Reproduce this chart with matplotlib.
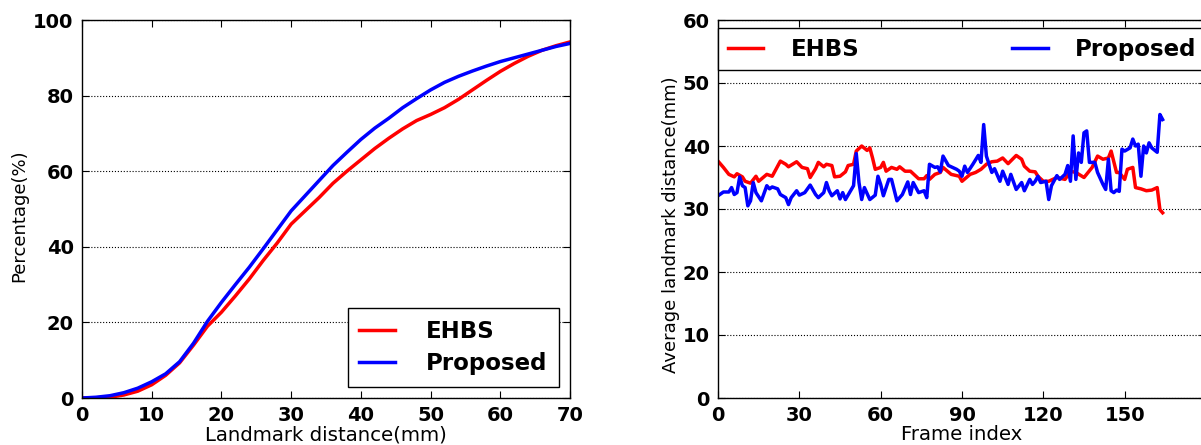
import matplotlib
matplotlib.use('Agg')
import matplotlib.pyplot as plt

# left: cumulative percentage vs landmark distance
dist = [0, 2, 4, 6, 8, 10, 12, 14, 16, 18, 20, 22, 24, 26, 28, 30, 32, 34, 36, 38,
        40, 42, 44, 46, 48, 50, 52, 54, 56, 58, 60, 62, 64, 66, 68, 70]
pct_ehbs = [0, 0.05, 0.2, 0.8, 1.8, 3.5, 6.0, 9.3, 14.0, 19.0, 22.7, 27.0, 31.5, 36.4,
            41.0, 46.0, 49.5, 53.0, 56.8, 60.0, 63.0, 66.0, 68.7, 71.2, 73.4, 75.0,
            76.8, 79.0, 81.5, 84.0, 86.4, 88.5, 90.4, 92.0, 93.2, 94.2]
pct_prop = [0, 0.2, 0.6, 1.4, 2.6, 4.3, 6.4, 9.6, 14.5, 20.3, 25.3, 30.0, 34.6, 39.5,
            44.5, 49.5, 53.5, 57.5, 61.5, 65.0, 68.4, 71.4, 74.0, 76.8, 79.2, 81.5,
            83.5, 85.1, 86.5, 87.8, 89.0, 90.0, 91.0, 92.0, 93.0, 93.8]

# right: average landmark distance per frame
fr_ehbs = [0, 2, 4, 6, 7, 9, 10, 12, 14, 15, 18, 20, 23, 25, 26, 29, 31, 33, 34, 36,
           37, 39, 40, 42, 43, 45, 47, 48, 50, 51, 53, 55, 56, 57, 58, 60, 61, 62, 64,
           66, 67, 69, 71, 73, 74, 76, 77, 78, 80, 82, 83, 86, 89, 90, 93, 95, 97, 99,
           101, 103, 105, 107, 110, 112, 113, 115, 117, 118, 120, 122, 125, 128, 130,
           132, 135, 138, 140, 142, 144, 145, 147, 148, 150, 151, 153, 154, 156, 158,
           160, 162, 163, 164]
val_ehbs = [37.6, 36.6, 35.5, 35.1, 35.6, 35.1, 34.4, 34.1, 35.2, 34.4, 35.5, 35.2,
            37.6, 37.1, 36.7, 37.5, 36.6, 36.4, 35.0, 36.4, 37.4, 36.7, 37.1, 36.9,
            35.1, 35.2, 35.9, 36.9, 37.1, 39.2, 40.0, 39.3, 39.7, 38.1, 36.3, 36.6,
            37.4, 36.0, 36.6, 36.3, 36.7, 36.0, 36.0, 35.2, 34.8, 34.8, 35.3, 34.7,
            35.5, 35.8, 36.6, 35.5, 35.2, 34.4, 35.5, 35.8, 36.3, 37.1, 37.5, 37.6,
            38.1, 37.2, 38.5, 37.9, 36.8, 36.0, 35.9, 35.2, 34.4, 34.4, 35.0, 34.7,
            36.0, 35.8, 35.0, 36.6, 38.4, 37.9, 38.1, 39.2, 35.8, 35.8, 34.7, 36.3,
            36.6, 33.4, 33.2, 32.9, 33.0, 33.4, 29.9, 29.4]
fr_prop = [0, 2, 4, 5, 6, 7, 8, 9, 10, 11, 12, 13, 14, 16, 18, 19, 20, 22, 23, 25,
           26, 27, 29, 30, 32, 34, 36, 37, 39, 40, 41, 42, 44, 45, 46, 47, 50, 51, 52,
           53, 54, 56, 58, 59, 60, 61, 63, 64, 66, 68, 70, 71, 72, 74, 76, 77, 78, 80,
           81, 82, 83, 85, 86, 88, 89, 90, 91, 92, 94, 96, 97, 98, 99, 101, 102, 104,
           105, 107, 108, 110, 112, 113, 115, 116, 117, 118, 119, 121, 122, 123, 125,
           126, 128, 129, 130, 131, 132, 133, 134, 135, 136, 137, 139, 140, 142, 143,
           144, 145, 146, 147, 148, 149, 150, 152, 153, 154, 155, 156, 157, 158, 159,
           160, 162, 163, 164]
val_prop = [32.1, 32.7, 32.7, 33.4, 32.3, 32.6, 35.1, 33.7, 33.4, 30.5, 31.3, 34.2,
            32.6, 31.3, 33.7, 33.2, 33.5, 33.2, 32.3, 31.8, 30.7, 31.8, 32.9, 32.2,
            32.6, 33.8, 32.3, 31.8, 32.6, 34.2, 32.9, 32.1, 32.9, 31.6, 32.6, 31.5,
            33.7, 38.8, 34.2, 31.5, 33.4, 31.5, 32.2, 35.2, 33.9, 32.1, 34.7, 34.7,
            31.3, 32.3, 34.3, 32.3, 34.2, 32.6, 32.9, 31.8, 37.1, 36.6, 36.7, 35.9,
            38.4, 36.9, 36.7, 36.3, 36.0, 35.2, 36.8, 35.8, 37.1, 38.5, 37.4, 43.4,
            38.4, 35.8, 36.4, 34.4, 36.0, 33.9, 35.5, 33.1, 34.2, 32.9, 34.7, 33.9,
            34.4, 35.2, 34.2, 34.4, 31.5, 33.7, 35.3, 34.7, 35.5, 36.9, 34.4, 41.6,
            34.7, 38.9, 37.4, 42.1, 42.4, 37.4, 37.4, 35.8, 33.9, 33.1, 37.9, 32.9,
            32.6, 33.0, 32.8, 39.5, 39.2, 39.7, 41.1, 40.0, 40.3, 35.2, 40.0, 38.9,
            40.5, 39.7, 39.0, 45.0, 44.2]

labels = ['EHBS', 'Proposed']
leg_font = {'weight': 'bold', 'size': 16.5}

fig = plt.figure(figsize=(12.01, 4.45), dpi=100)
ax1 = fig.add_axes([82 / 1201, 47 / 445, 488 / 1201, 378 / 445])
ax2 = fig.add_axes([718 / 1201, 47 / 445, 488 / 1201, 378 / 445])

ax1.plot(dist, pct_ehbs, color='#ff0000', lw=2.5, label=labels[0])
ax1.plot(dist, pct_prop, color='#0000ff', lw=2.5, label=labels[1])
ax1.set_xlim(0, 70)
ax1.set_ylim(0, 100)
ax1.set_xticks(range(0, 71, 10))
ax1.set_yticks(range(0, 101, 20))
ax1.set_xlabel('Landmark distance(mm)', fontsize=14.2, labelpad=0)
ax1.set_ylabel('Percentage(%)', fontsize=13)
ax1.yaxis.set_label_coords(-0.11, 0.481)
ax1.legend(loc='lower right', prop=leg_font,
           handlelength=1.55, handletextpad=1.35, borderpad=0.5, labelspacing=0.4,
           fancybox=False, edgecolor='black', framealpha=1)

ax2.plot(fr_ehbs, val_ehbs, color='#ff0000', lw=2.5, label=labels[0])
ax2.plot(fr_prop, val_prop, color='#0000ff', lw=2.5, label=labels[1])
ax2.set_xlim(0, 180)
ax2.set_ylim(0, 60)
ax2.set_xticks(range(0, 151, 30))
ax2.set_yticks(range(0, 61, 10))
ax2.set_xlabel('Frame index', fontsize=14.2, labelpad=0)
ax2.set_ylabel('Average landmark distance(mm)', fontsize=13)
ax2.yaxis.set_label_coords(-0.077, 0.458)
ax2.legend(loc='upper left', bbox_to_anchor=(0, 0, 1, 0.979), mode='expand', ncol=2,
           borderaxespad=0, prop=leg_font,
           handlelength=1.55, handletextpad=1.2, borderpad=0.42,
           fancybox=False, edgecolor='black', framealpha=1)

for ax in (ax1, ax2):
    ax.yaxis.grid(True, linestyle=':', color='black', lw=0.8)
    ax.tick_params(direction='in', top=True, right=True, length=5, pad=6)
    for lab in ax.get_xticklabels() + ax.get_yticklabels():
        lab.set_fontsize(14)
        lab.set_fontweight('bold')
    for sp in ax.spines.values():
        sp.set_linewidth(1.0)

fig.savefig('out.png', dpi=100)
